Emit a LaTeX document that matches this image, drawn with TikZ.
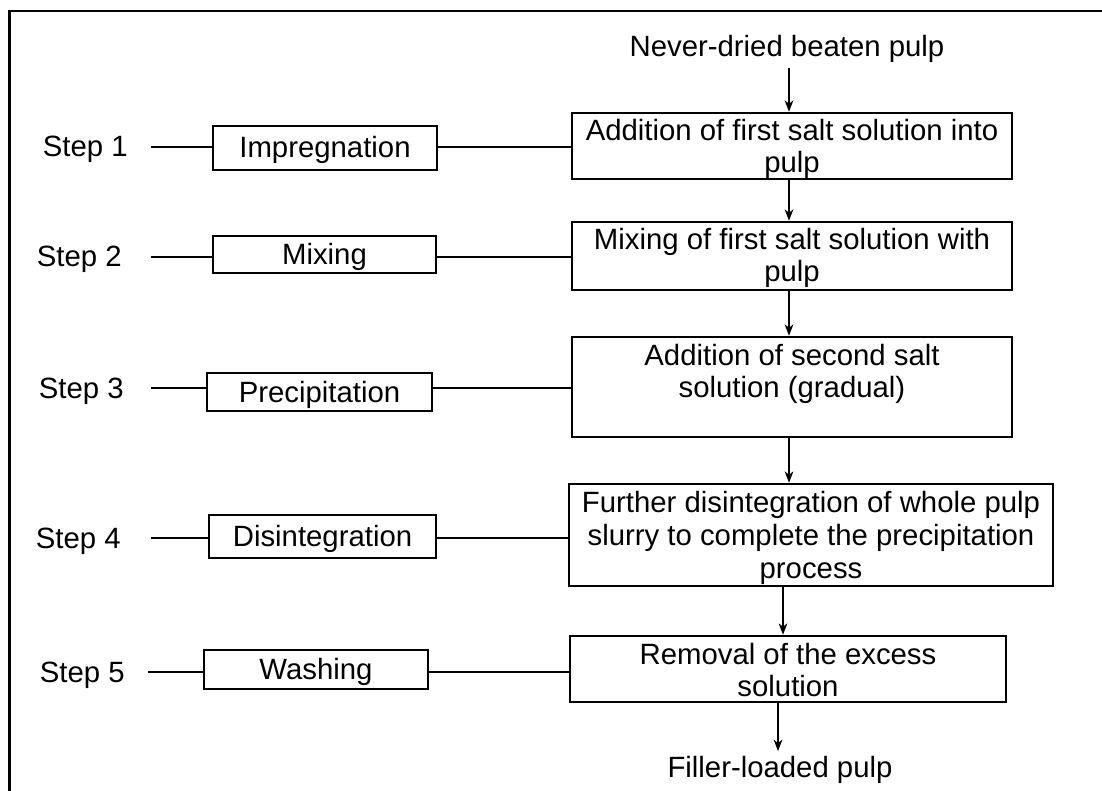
\documentclass[tikz,border=0pt]{standalone}
\usepackage{fontspec}
\setmainfont{Liberation Sans}
\usetikzlibrary{arrows.meta}
\newcommand{\bxt}[4]{\parbox[c][#2][t]{#1}{\centering\baselineskip=#3\relax\rule{0pt}{21pt}#4}}
\begin{document}
\begin{tikzpicture}[x=0.75pt,y=-0.75pt,
  font=\fontsize{22}{26.25}\selectfont,
  bigbox/.style={draw,line width=1.9pt,inner sep=0pt},
  stepbox/.style={draw,line width=1.9pt,inner sep=0pt,text height=19.5pt,text depth=4.5pt},
  steplbl/.style={inner sep=0pt,anchor=base east},
  conn/.style={line width=1.2pt},
  arr/.style={line width=1.2pt,-{Stealth[length=8.5pt,width=6.5pt,inset=2.5pt]}}]
\useasboundingbox (0,0) rectangle (1102,791);
\clip (0,0) rectangle (1102,791);
% outer frame (cut off at right and bottom)
\draw[line width=2pt] (9.5,830) -- (9.5,11) -- (1140,11);

% spine coordinates for arrows
\coordinate (sp) at (789,0);
\coordinate (spb) at (783,0);
\coordinate (spc) at (778,0);

% main column
\node[anchor=base] (title) at (787,57) {Never-dried beaten pulp};
\node[bigbox] (b1) at (792,146)
  {\bxt{330pt}{49.5pt}{24pt}{Addition of first salt solution into\\pulp}};
\node[bigbox] (b2) at (792,256)
  {\bxt{330pt}{51pt}{24pt}{Mixing of first salt solution with\\pulp}};
\node[bigbox] (b3) at (792,387)
  {\bxt{330pt}{75pt}{24pt}{Addition of second salt\\solution (gradual)}};
\node[bigbox] (b4) at (811,535)
  {\bxt{363pt}{76.5pt}{24.75pt}{Further disintegration of whole pulp\\slurry to complete the precipitation\\process}};
\node[bigbox] (b5) at (788,669)
  {\bxt{327pt}{49.5pt}{24pt}{Removal of the excess\\solution}};
\node[anchor=base] (filler) at (780,777) {Filler-loaded pulp};

% step boxes
\node[stepbox,minimum width=168pt,minimum height=33pt] (i1) at (325,148) {Impregnation};
\node[stepbox,minimum width=167.25pt,minimum height=27.75pt] (i2) at (324.5,254.5) {Mixing};
\node[stepbox,minimum width=168.75pt,minimum height=28.5pt] (i3) at (319.5,392) {Precipitation};
\node[stepbox,minimum width=170.25pt,minimum height=32.25pt] (i4) at (322.5,536.5) {Disintegration};
\node[stepbox,minimum width=168pt,minimum height=29.25pt] (i5) at (316,669.5) {Washing};

% step labels
\node[steplbl] (s1) at (128,157) {Step 1};
\node[steplbl] (s2) at (122,267) {Step 2};
\node[steplbl] (s3) at (124,398) {Step 3};
\node[steplbl] (s4) at (121,548) {Step 4};
\node[steplbl] (s5) at (125,682) {Step 5};

\coordinate (l1) at (151,147);
\coordinate (l2) at (151,257);
\coordinate (l3) at (151,388);
\coordinate (l4) at (151,538);
\coordinate (l5) at (148,672);

% connectors
\draw[conn] (l1) -- (i1.west |- l1);
\draw[conn] (l2) -- (i2.west |- l2);
\draw[conn] (l3) -- (i3.west |- l3);
\draw[conn] (l4) -- (i4.west |- l4);
\draw[conn] (l5) -- (i5.west |- l5);

\draw[conn] (i1.east |- l1) -- (b1.west |- l1);
\draw[conn] (i2.east |- l2) -- (b2.west |- l2);
\draw[conn] (i3.east |- l3) -- (b3.west |- l3);
\draw[conn] (i4.east |- l4) -- (b4.west |- l4);
\draw[conn] (i5.east |- l5) -- (b5.west |- l5);

% arrows
\draw[arr] (title.south -| sp) -- (b1.north -| sp);
\draw[arr] (b1.south -| sp) -- (b2.north -| sp);
\draw[arr] (b2.south -| sp) -- (b3.north -| sp);
\draw[arr] (b3.south -| sp) -- (b4.north -| sp);
\draw[arr] (b4.south -| spb) -- (b5.north -| spb);
\draw[arr] (b5.south -| spc) -- (filler.north -| spc);
\end{tikzpicture}
\end{document}
